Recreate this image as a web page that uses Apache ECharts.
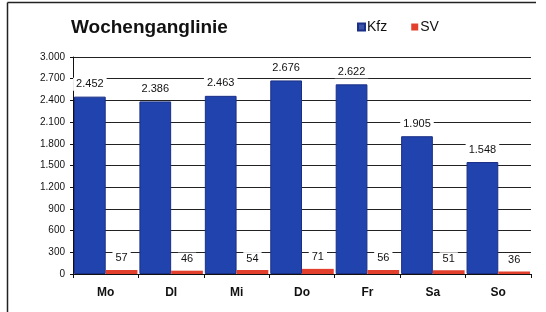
<!DOCTYPE html>
<html>
<head>
<meta charset="utf-8">
<script src="https://cdn.jsdelivr.net/npm/echarts@6/dist/echarts.min.js"></script>
<style>
  html, body { margin: 0; padding: 0; background: #fff; }
  #container { width: 546px; height: 312px; }
</style>
</head>
<body>
<div id="container"></div>
<script>
// Wochentage
var days = ['Mo', 'DI', 'Mi', 'Do', 'Fr', 'Sa', 'So'];
// Kfz pro Tag
var kfzValues = [2452, 2386, 2463, 2676, 2622, 1905, 1548];
// Schwerverkehr pro Tag
var svValues = [57, 46, 54, 71, 56, 51, 36];
// y-Achse
var yTicks = [0, 300, 600, 900, 1200, 1500, 1800, 2100, 2400, 2700, 3000];

// deutsche Tausenderpunkte
function fmt(v) {
    return String(v).replace(/\B(?=(\d{3})+(?!\d))/g, '.');
}

var dom = document.getElementById('container');
var myChart = echarts.init(dom);

var labelStyle = {
    show: true,
    position: 'top',
    color: '#111',
    fontFamily: 'Liberation Sans, Arial, sans-serif',
    fontSize: 11,
    backgroundColor: '#fff',
    padding: [1, 3],
    formatter: function (p) { return fmt(p.value); }
};

var option = {
    animation: false,
    backgroundColor: '#fff',
    title: {
        text: 'Wochenganglinie',
        left: 66,
        top: 13,
        textStyle: {
            fontFamily: 'Liberation Sans, Arial, sans-serif',
            fontSize: 19,
            fontWeight: 'bold',
            color: '#111'
        }
    },
    legend: {
        left: 352,
        top: 15,
        itemWidth: 7,
        itemHeight: 7,
        itemGap: 24,
        icon: 'rect',
        textStyle: {
            fontFamily: 'Liberation Sans, Arial, sans-serif',
            fontSize: 14,
            color: '#111',
            padding: [0, 0, 0, -3]
        },
        data: [
            { name: 'Kfz', itemStyle: { color: '#3c55a8' } },
            { name: 'SV', itemStyle: { color: '#e2402c' } }
        ]
    },
    grid: {
        left: 73,
        right: 15,
        top: 57,
        bottom: 38
    },
    xAxis: {
        type: 'category',
        data: days,
        axisLine: { lineStyle: { color: '#111', width: 1 } },
        axisTick: { show: true, length: 4, lineStyle: { color: '#111' } },
        axisLabel: {
            color: '#111',
            fontFamily: 'Liberation Sans, Arial, sans-serif',
            fontSize: 12,
            fontWeight: 'bold',
            margin: 13
        }
    },
    yAxis: {
        type: 'value',
        min: yTicks[0],
        max: yTicks[yTicks.length - 1],
        interval: yTicks[1] - yTicks[0],
        axisLine: { show: true, lineStyle: { color: '#111', width: 1 } },
        axisTick: { show: true, length: 3, lineStyle: { color: '#111' } },
        axisLabel: {
            color: '#111',
            fontFamily: 'Liberation Sans, Arial, sans-serif',
            fontSize: 10,
            margin: 8,
            formatter: function (v) { return fmt(v); }
        },
        splitLine: { show: true, lineStyle: { color: '#222', width: 1 } }
    },
    series: [{
        name: 'Kfz',
        type: 'bar',
        data: kfzValues,
        barGap: '0%',
        barCategoryGap: '3%',
        itemStyle: { color: '#2143ae', borderColor: '#1a2f86', borderWidth: 1 },
        label: Object.assign({}, labelStyle, { distance: 6 })
    }, {
        name: 'SV',
        type: 'bar',
        data: svValues,
        itemStyle: { color: '#e2402c' },
        label: Object.assign({}, labelStyle, { distance: 5 })
    }],
    graphic: [{
        type: 'line',
        shape: { x1: 7.5, y1: 2.5, x2: 7.5, y2: 312 },
        style: { stroke: '#222', lineWidth: 1.5 }
    }, {
        type: 'line',
        shape: { x1: 7.5, y1: 2.5, x2: 536, y2: 2.5 },
        style: { stroke: '#222', lineWidth: 1.5 }
    }]
};

if (option && typeof option === 'object') {
    myChart.setOption(option, true);
}
</script>
</body>
</html>
